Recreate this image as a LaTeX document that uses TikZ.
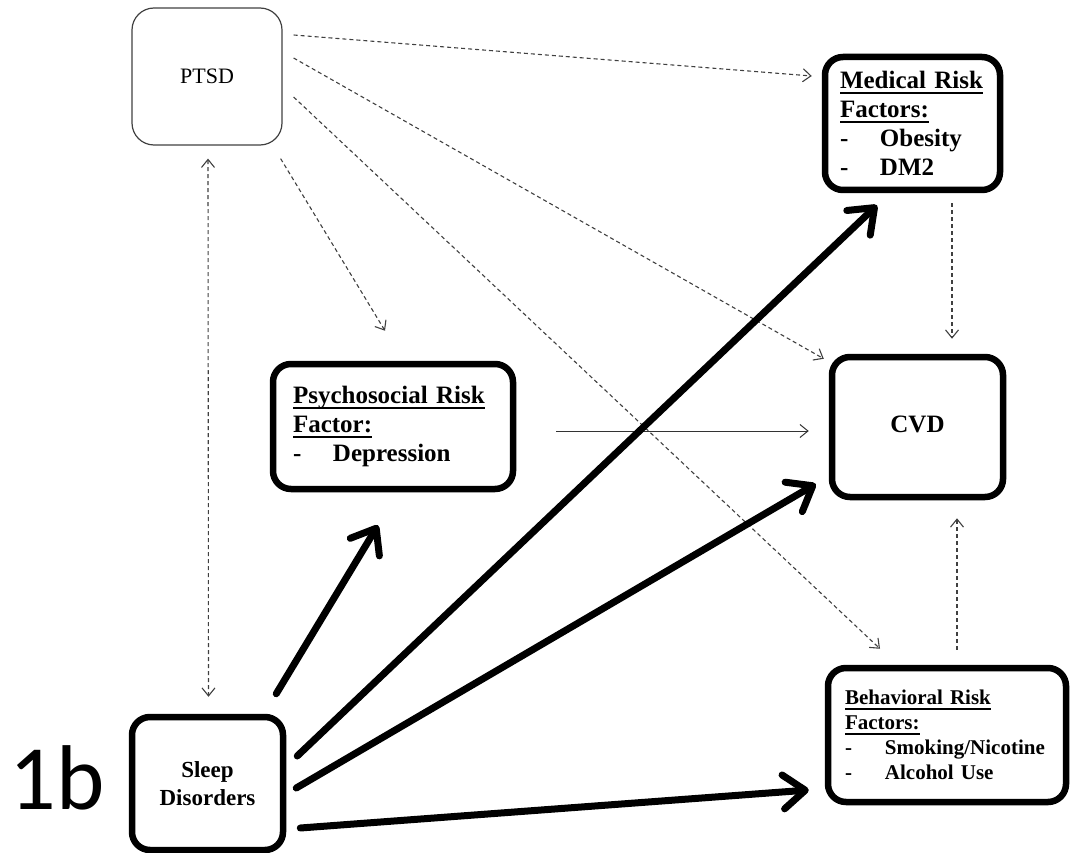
\documentclass[tikz,border=0pt]{standalone}
\usepackage{fontspec}
\setmainfont{Liberation Serif}
\newfontfamily\labelfont{Carlito}
\usetikzlibrary{arrows.meta}

\newcommand{\dashitem}{\makebox[40pt][l]{-}}
\newcommand{\ulined}[1]{\leavevmode\vtop{\hbox{\raisebox{0pt}[\height][0pt]{#1}}\kern3.5pt\hrule height 1.6pt}}

\begin{document}
\begin{tikzpicture}[x=1pt,y=-1pt,
  softbox/.style={draw=black!75,line width=1.2pt,rounded corners=22pt,align=center,font=\fontsize{22}{26}\selectfont},
  riskbox/.style={draw,line width=6.5pt,rounded corners=18pt,align=left,inner xsep=20pt,font=\bfseries\fontsize{25}{29}\selectfont},
  dasharrow/.style={draw=black!75,line width=1.1pt,dash pattern=on 4pt off 3pt,>={Straight Barb[length=8pt,width=13pt]},->},
  thinarrow/.style={draw=black!80,line width=1pt,-{Straight Barb[length=8pt,width=13pt]}},
  bigarrow/.style={line width=7pt,line cap=round,-{Straight Barb[length=22pt,width=34pt,round]}}]

\useasboundingbox (0,0) rectangle (1078,853);

% boxes
\node[softbox,minimum width=150pt,minimum height=137pt] (PTSD) at (207,76.5) {PTSD};

\node[riskbox,inner xsep=15pt,minimum width=175pt,minimum height=133pt,text width=145pt] (Medical) at (912.5,123.5) {\ulined{Medical Risk}\\\ulined{Factors:}\\\dashitem Obesity\\\dashitem DM2};

\node[riskbox,minimum width=240pt,minimum height=125pt,text width=200pt] (Psycho) at (393,426.5) {\ulined{Psychosocial Risk}\\\ulined{Factor:}\\\dashitem Depression};

\node[riskbox,align=center,minimum width=171pt,minimum height=140pt] (CVD) at (917.5,427) {\raisebox{6pt}{CVD}};

\node[riskbox,font=\bfseries\fontsize{21}{25}\selectfont,inner xsep=17pt,minimum width=238pt,minimum height=134pt,text width=204pt] (Behav) at (947,735) {\ulined{Behavioral Risk}\\\ulined{Factors:}\\\dashitem Smoking/Nicotine\\\dashitem Alcohol Use};

\node[riskbox,align=center,font=\bfseries\fontsize{23}{28}\selectfont,minimum width=151pt,minimum height=133pt] (Sleep) at (207.5,783.5) {Sleep\\Disorders};

\node[inner sep=0pt,font=\labelfont\fontsize{92}{92}\selectfont] (FigLabel) at (57,778) {1b};

% dashed links from PTSD
\draw[dasharrow] ([shift={(11,-41.5)}]PTSD.east) -- ([shift={(-10,-47.5)}]Medical.west);
\draw[dasharrow] ([shift={(11,-18.5)}]PTSD.east) -- ([shift={(-5,5)}]CVD.north west);
\draw[dasharrow] ([shift={(11,20.5)}]PTSD.east) -- ([shift={(-67,-16)}]Behav.north);
\draw[dasharrow] ([shift={(-2,13)}]PTSD.south east) -- ([shift={(-8,-30)}]Psycho.north);
\draw[dasharrow,<->] ([shift={(1,13)}]PTSD.south) -- ([shift={(1,-17)}]Sleep.north);

% into CVD
\draw[dasharrow] ([shift={(39.5,10)}]Medical.south) -- ([shift={(34.5,-15)}]CVD.north);
\draw[dasharrow] ([shift={(10,-15)}]Behav.north) -- ([shift={(39.5,18)}]CVD.south);
\draw[thinarrow] ([shift={(40,4.5)}]Psycho.east) -- ([shift={(-20,4)}]CVD.west);

% sleep disorders
\draw[bigarrow] ([shift={(-10,-20)}]Sleep.north east) -- ([shift={(-15,33)}]Psycho.south);
\draw[bigarrow] ([shift={(11,-27.5)}]Sleep.east) -- ([shift={(-35.5,12)}]Medical.south);
\draw[bigarrow] ([shift={(10,4.5)}]Sleep.east) -- ([shift={(-13,57)}]CVD.west);
\draw[bigarrow] ([shift={(14,44.5)}]Sleep.east) -- ([shift={(-16,55)}]Behav.west);

\end{tikzpicture}
\end{document}
